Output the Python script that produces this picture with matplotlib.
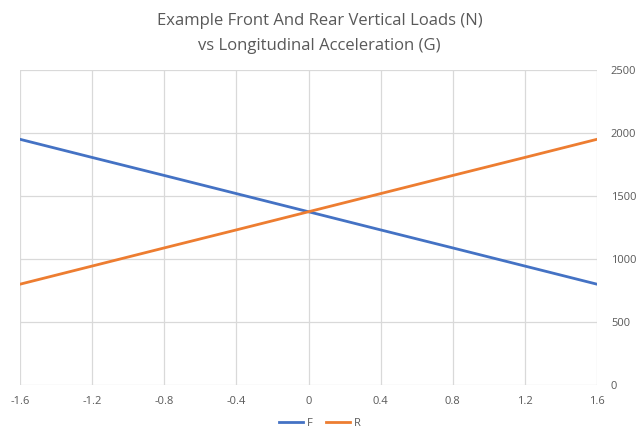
import matplotlib.pyplot as plt

# Longitudinal acceleration (G) and vertical loads (N)
accel = [-1.6, -1.2, -0.8, -0.4, 0.0, 0.4, 0.8, 1.2, 1.6]
front = [1950, 1806, 1663, 1519, 1375, 1231, 1088, 944, 800]
rear = [800, 944, 1088, 1231, 1375, 1519, 1663, 1806, 1950]

x_ticks = [-1.6, -1.2, -0.8, -0.4, 0, 0.4, 0.8, 1.2, 1.6]
x_labels = ['-1.6', '-1.2', '-0.8', '-0.4', '0', '0.4', '0.8', '1.2', '1.6']
y_ticks = [0, 500, 1000, 1500, 2000, 2500]

plt.rcParams['font.family'] = ['Open Sans', 'DejaVu Sans']
txt = '#595959'
grid = '#D9D9D9'

fig = plt.figure(figsize=(6.39, 4.4), dpi=100)
ax = fig.add_axes([20 / 639, 1 - 385 / 440, 577 / 639, 315 / 440])

ax.plot(accel, front, color='#4472C4', lw=2, label='F')
ax.plot(accel, rear, color='#ED7D31', lw=2, label='R')

ax.set_xlim(-1.6, 1.6)
ax.set_ylim(0, 2500)
ax.set_xticks(x_ticks)
ax.set_xticklabels(x_labels)
ax.set_yticks(y_ticks)
ax.yaxis.tick_right()
ax.tick_params(length=0, labelsize=8, colors=txt, pad=8)
ax.tick_params(axis='y', pad=10)
ax.grid(True, color=grid, lw=0.9)
ax.set_axisbelow(True)
for s in ax.spines.values():
    s.set_visible(False)

fig.text(0.5, 0.952, 'Example Front And Rear Vertical Loads (N)', ha='center', va='center',
         fontsize=12, color=txt)
fig.text(0.5, 0.896, 'vs Longitudinal Acceleration (G)', ha='center', va='center',
         fontsize=12, color=txt)

fig.legend(loc='center', bbox_to_anchor=(0.5, 0.037), ncol=2, frameon=False,
           fontsize=8, labelcolor=txt, handlelength=2.2, handletextpad=0.3, columnspacing=1.2)

fig.savefig('out.png', dpi=100)
